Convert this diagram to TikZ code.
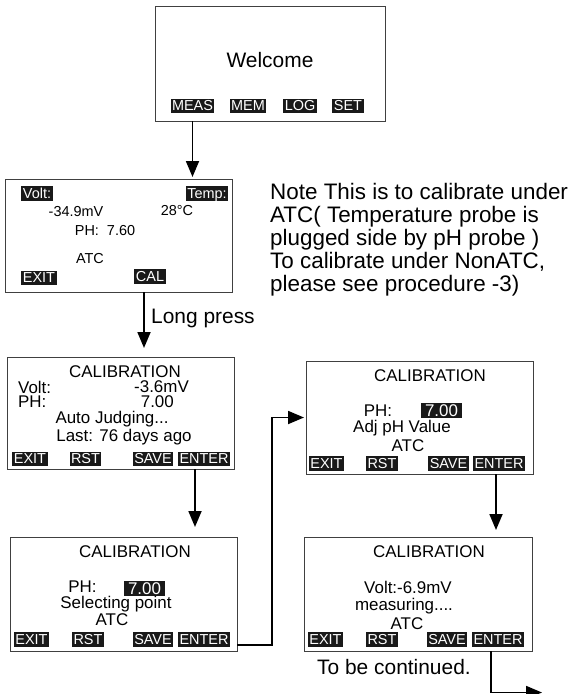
\documentclass[tikz,border=0pt]{standalone}
\usepackage{fontspec}
\setmainfont{Liberation Sans}
\usetikzlibrary{arrows.meta}

\newcommand{\lcdfont}{\fontsize{17}{17}\selectfont}
\newcommand{\smallfont}{\fontsize{14.5}{14.5}\selectfont}
\newcommand{\keyfont}{\fontsize{14.5}{14.5}\selectfont}
\newcommand{\bigfont}{\fontsize{21}{21}\selectfont}
\newcommand{\notefont}{\fontsize{22.5}{23}\selectfont}

\tikzset{
  screen/.style={draw=black!75, line width=1bp, anchor=north west, inner sep=0, outer sep=0},
  key/.style={fill=black!90, text=white, font=\keyfont, inner xsep=1.5bp, inner ysep=1.2bp,
    text height=11bp, text depth=1.5bp},
  value/.style={key, font=\lcdfont, inner xsep=4bp, inner ysep=1bp, text height=12.5bp, text depth=0.5bp},
  lcd/.style={font=\lcdfont, inner sep=0},
  small/.style={font=\smallfont, inner sep=0},
  flow/.style={-{Triangle[length=16bp,width=13bp]}, line width=1.8bp},
}

\begin{document}
\begin{tikzpicture}[x=1bp,y=-1bp]
    \useasboundingbox (0,0) rectangle (579,694);
    % screens
    \node[screen, minimum width=230bp, minimum height=114bp] (welcome) at (155,7) {};
    \node[screen, minimum width=227bp, minimum height=113bp] (measure) at (5,179) {};
    \node[screen, minimum width=227bp, minimum height=112bp] (calauto) at (7,357) {};
    \node[screen, minimum width=227bp, minimum height=114bp] (calselect) at (10,537) {};
    \node[screen, minimum width=227bp, minimum height=113bp] (caladjust) at (306,361) {};
    \node[screen, minimum width=228bp, minimum height=114bp] (calmeasure) at (304,537) {};

    % welcome screen
    \node[font=\bigfont, inner sep=0] (welcometxt) at (270,60) {Welcome};
    \node[key] (btnmeas) at (192.5,106) {MEAS};
    \node[key] (btnmem) at (248,106) {MEM};
    \node[key] (btnlog) at (300,106) {LOG};
    \node[key] (btnset) at (348,106) {SET};

    % measuring screen
    \node[key] (mvolt) at (37,193.5) {Volt:};
    \node[key] (mtemp) at (207,193.5) {Temp:};
    \node[small] (mmv) at (76,212) {-34.9mV};
    \node[small] (mdeg) at (177,211) {28°C};
    \node[small] (mph) at (105,231) {PH:\ \ 7.60};
    \node[small] (matc) at (90,259) {ATC};
    \node[key] (mexit) at (39,278) {EXIT};
    \node[key] (mcal) at (150,276.5) {CAL};

    % calibration, auto judging
    \node[lcd] (atitle) at (125,372) {CALIBRATION};
    \node[lcd, anchor=west] (avolt) at (18,387) {Volt:};
    \node[lcd, anchor=east] (amv) at (189,387) {-3.6mV};
    \node[lcd, anchor=west] (aph) at (18,402) {PH:};
    \node[lcd, anchor=east] (aphval) at (174,402) {7.00};
    \node[lcd] (ajudge) at (112,419) {Auto Judging...};
    \node[lcd] (alast) at (124,437) {Last: 76 days ago};
    \node[key] (aexit) at (30,459) {EXIT};
    \node[key] (arst) at (85.5,459) {RST};
    \node[key] (asave) at (153,459) {SAVE};
    \node[key] (aenter) at (204,459) {ENTER};

    % calibration, selecting point
    \node[lcd] (stitle) at (135,552) {CALIBRATION};
    \node[lcd] (sph) at (82.5,587) {PH:};
    \node[value] (sphval) at (144.5,588) {7.00};
    \node[lcd] (spoint) at (116,604) {Selecting point};
    \node[lcd] (satc) at (112,620) {ATC};
    \node[key] (sexit) at (31.5,639.5) {EXIT};
    \node[key] (srst) at (88,639.5) {RST};
    \node[key] (ssave) at (153,639.5) {SAVE};
    \node[key] (senter) at (204,639.5) {ENTER};

    % calibration, adjust value
    \node[lcd] (jtitle) at (430,376) {CALIBRATION};
    \node[lcd] (jph) at (378,411) {PH:};
    \node[value] (jphval) at (441.5,410) {7.00};
    \node[lcd] (jadj) at (402,428) {Adj pH Value};
    \node[lcd] (jatc) at (408,446) {ATC};
    \node[key] (jexit) at (326.5,463.5) {EXIT};
    \node[key] (jrst) at (382,463.5) {RST};
    \node[key] (jsave) at (448.5,463.5) {SAVE};
    \node[key] (jenter) at (499,463.5) {ENTER};

    % calibration, measuring
    \node[lcd] (etitle) at (429,552) {CALIBRATION};
    \node[lcd] (evolt) at (408,587) {Volt:-6.9mV};
    \node[lcd] (emeas) at (404,606) {measuring....};
    \node[lcd] (eatc) at (407,624) {ATC};
    \node[key] (eexit) at (325.5,639.5) {EXIT};
    \node[key] (erst) at (382,639.5) {RST};
    \node[key] (esave) at (447,639.5) {SAVE};
    \node[key] (eenter) at (498,639.5) {ENTER};

    % notes
    \node[font=\notefont, align=left, inner sep=0, anchor=north west] (note) at (270,183.5)
      {Note This is to calibrate under\\ATC( Temperature probe is\\plugged side by pH probe )\\To calibrate under NonATC,\\please see procedure -3)};
    \node[font=\bigfont, inner sep=0, anchor=west] (longpress) at (151,318) {Long press};
    \node[font=\bigfont, inner sep=0, anchor=west] (tbc) at (317,667) {To be continued.};

    % connectors
    \coordinate (longx) at (144,0);
    \coordinate (autox) at (195,0);
    \coordinate (bend) at (272,645);
    \coordinate (adjx) at (496,0);
    \coordinate (contx) at (491,0);
    \coordinate (nextpage) at (542,692.5);
    \draw[flow, shorten >=2bp] (welcome.south -| btnmeas) -- (measure.north -| btnmeas);
    \draw[flow, shorten >=9bp] (measure.south -| longx) -- (calauto.north -| longx);
    \draw[flow, shorten >=10bp] (calauto.south -| autox) -- (calselect.north -| autox);
    \draw[flow, shorten >=2bp] (calselect.east |- bend) -- (bend) |- (caladjust.west);
    \draw[flow, shorten >=7bp] (caladjust.south -| adjx) -- (calmeasure.north -| adjx);
    \draw[flow] (calmeasure.south -| contx) |- (nextpage);
\end{tikzpicture}
\end{document}
